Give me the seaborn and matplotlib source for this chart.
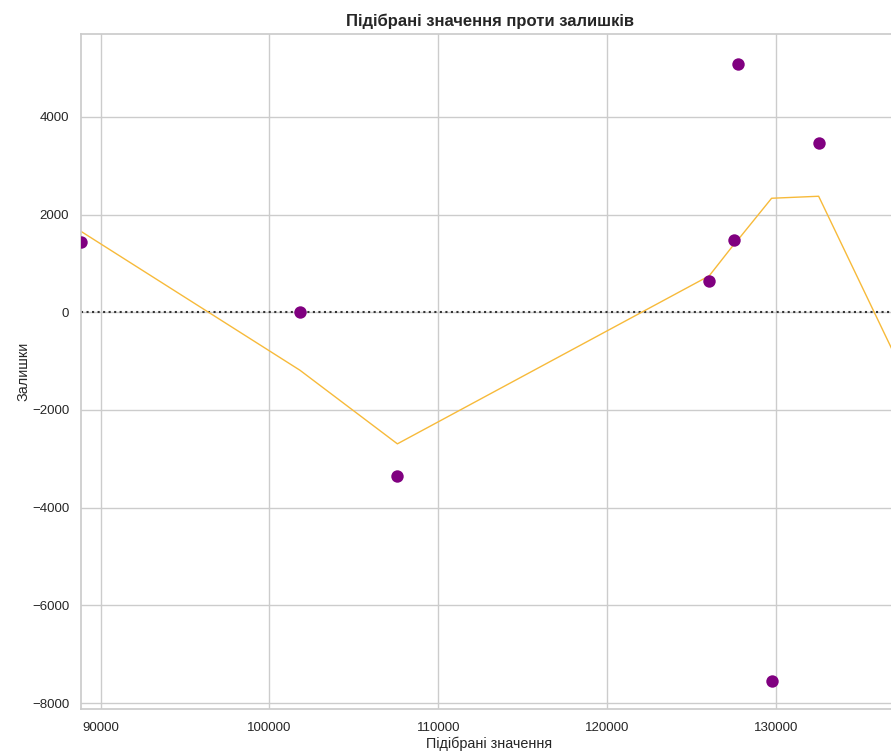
import matplotlib
matplotlib.use("Agg")
import matplotlib.pyplot as plt
import seaborn as sns
import pandas as pd

# Fitted values (x) and residuals (y)
fitted = [88845, 101807, 107577, 126037, 127482, 127755, 129733, 132518, 137216]
residuals = [1431, 0, -3344, 643, 1472, 5077, -7544, 3474, -1209]

# Smoothed (lowess) trend of residuals at the fitted values
smooth_y = [1657, -1186, -2693, 746, 1382, 1490, 2335, 2376, -1015]

title = "Підібрані значення проти залишків"
xlabel = "Підібрані значення"
ylabel = "Залишки"
xticks = [90000, 100000, 110000, 120000, 130000]
yticks = [-8000, -6000, -4000, -2000, 0, 2000, 4000]

sns.set_theme(style="whitegrid")
plt.rcParams["font.family"] = ["Liberation Sans", "DejaVu Sans"]

df = pd.DataFrame({"fitted": fitted, "resid": residuals, "smooth": smooth_y})

fig = plt.figure(figsize=(8.91, 7.51), dpi=100)
ax = fig.add_axes([81 / 891, 42 / 751, 817 / 891, 675 / 751])

sns.scatterplot(data=df, x="fitted", y="resid", color="purple", s=80,
                edgecolor="purple", linewidth=0, ax=ax, zorder=3)
sns.lineplot(data=df, x="fitted", y="smooth", color="#f7ba3a", lw=1,
             ax=ax, zorder=2, sort=True)
ax.axhline(0, ls=":", c=".2", lw=1.5, zorder=1)

ax.set_title(title, fontsize=12, fontweight="bold", color="#262626", pad=6)
ax.set_xlabel(xlabel, fontsize=10.4, color="#262626", labelpad=2)
ax.set_ylabel(ylabel, fontsize=10.4, color="#262626", labelpad=1)
ax.tick_params(axis="x", labelsize=9.5, colors="#262626", pad=3.5)
ax.tick_params(axis="y", labelsize=9.5, colors="#262626", pad=2.5)
ax.set_xticks(xticks)
ax.set_yticks(yticks)
ax.set_xlim(min(fitted), max(fitted))
ax.set_ylim(-8122, 5698)

fig.savefig("out.png", dpi=100)
